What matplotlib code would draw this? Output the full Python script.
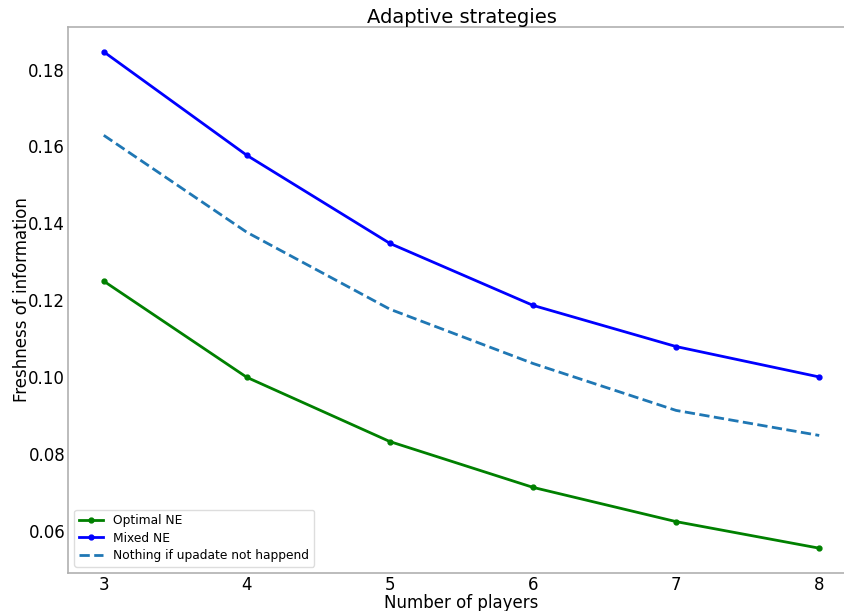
import numpy as np
import matplotlib
matplotlib.use("Agg")
import matplotlib.pyplot as plt

# --- data ---
players = [3, 4, 5, 6, 7, 8]
optimal_ne = [0.1250, 0.1000, 0.0833, 0.0714, 0.0625, 0.0556]
mixed_ne = [0.1846, 0.1577, 0.1348, 0.1187, 0.1080, 0.1001]
nothing_no_update = [0.1629, 0.1377, 0.1177, 0.1036, 0.0914, 0.0849]

W, H = 844, 611
fig = plt.figure(figsize=(W / 100, H / 100), dpi=100)
# axes runs a bit past the right edge, as in the reference
ax = fig.add_axes([68 / W, (H - 573) / H, (855 - 68) / W, 546 / H])

ax.plot(players, optimal_ne, color="green", lw=2, marker="o", ms=3.5,
        label="Optimal NE")
ax.plot(players, mixed_ne, color="blue", lw=2, marker="o", ms=3.5,
        label="Mixed NE")
ax.plot(players, nothing_no_update, color="#1f77b4", lw=2, ls="--",
        label="Nothing if upadate not happend")

ax.set_title("Adaptive strategies", fontsize=14, pad=3)
ax.set_xlabel("Number of players", fontsize=12, labelpad=0)
ax.set_ylabel("Freshness of information", fontsize=12, labelpad=-2)
ax.tick_params(length=0, labelsize=12, pad=2)
for sp in ax.spines.values():
    sp.set_color("#b0b0b0")
    sp.set_linewidth(1.2)

ax.legend(loc="lower left", fontsize=8.8, framealpha=1, edgecolor="#dddddd",
          fancybox=True, labelspacing=0.35)

fig.savefig("out.png", dpi=100)
